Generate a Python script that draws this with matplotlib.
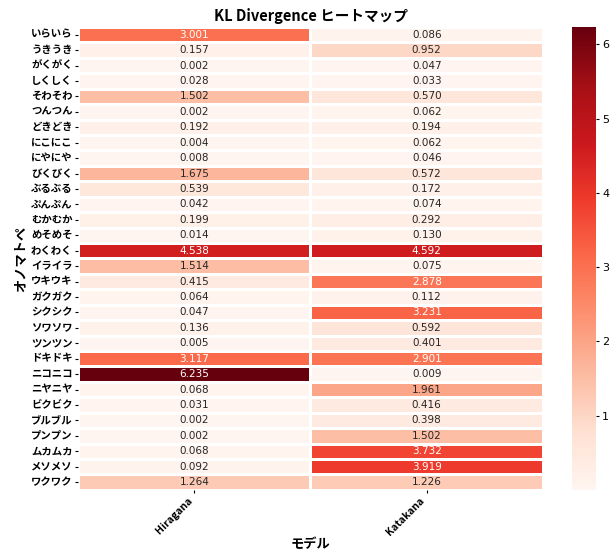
import numpy as np
import pandas as pd
import matplotlib
matplotlib.use("Agg")
import matplotlib.pyplot as plt
import seaborn as sns

plt.rcParams['font.family'] = ['Noto Sans CJK JP', 'DejaVu Sans']

onomatopoeia = ['いらいら', 'うきうき', 'がくがく', 'しくしく', 'そわそわ', 'つんつん', 'どきどき',
                'にこにこ', 'にやにや', 'びくびく', 'ぶるぶる', 'ぷんぷん', 'むかむか', 'めそめそ',
                'わくわく', 'イライラ', 'ウキウキ', 'ガクガク', 'シクシク', 'ソワソワ', 'ツンツン',
                'ドキドキ', 'ニコニコ', 'ニヤニヤ', 'ビクビク', 'ブルブル', 'プンプン', 'ムカムカ',
                'メソメソ', 'ワクワク']
models = ['Hiragana', 'Katakana']

hiragana = [3.001, 0.157, 0.002, 0.028, 1.502, 0.002, 0.192, 0.004, 0.008, 1.675,
            0.539, 0.042, 0.199, 0.014, 4.538, 1.514, 0.415, 0.064, 0.047, 0.136,
            0.005, 3.117, 6.235, 0.068, 0.031, 0.002, 0.002, 0.068, 0.092, 1.264]
katakana = [0.086, 0.952, 0.047, 0.033, 0.570, 0.062, 0.194, 0.062, 0.046, 0.572,
            0.172, 0.074, 0.292, 0.130, 4.592, 0.075, 2.878, 0.112, 3.231, 0.592,
            0.401, 2.901, 0.009, 1.961, 0.416, 0.398, 1.502, 3.732, 3.919, 1.226]

df = pd.DataFrame({'Hiragana': hiragana, 'Katakana': katakana}, index=onomatopoeia)

fig = plt.figure(figsize=(6.1, 5.51), dpi=100)
ax = fig.add_axes([0.128, 0.111, 0.762, 0.840])
cax = fig.add_axes([0.938, 0.111, 0.039, 0.840])

# numbers (cell values, colorbar) stay in DejaVu Sans
sns.heatmap(df, ax=ax, cbar_ax=cax, cmap='Reds', annot=True, fmt='.3f',
            linewidths=0.8, linecolor='white',
            annot_kws={'size': 7.5, 'family': 'DejaVu Sans'})

ax.set_title('KL Divergence ヒートマップ', fontsize=10.5, fontweight='bold', pad=4)
ax.set_xlabel('モデル', fontsize=9.5, fontweight='bold', labelpad=0)
ax.set_ylabel('オノマトペ', fontsize=9.5, fontweight='bold', labelpad=2)
ax.set_xticklabels(models, rotation=45, ha='right', fontsize=7.5, fontweight='bold')
ax.set_yticklabels(onomatopoeia, rotation=0, fontsize=7.5, fontweight='bold')
ax.tick_params(length=2.5, pad=1.5)
cax.tick_params(labelsize=8, length=2.5, pad=2)
for t in cax.get_yticklabels():
    t.set_family('DejaVu Sans')

fig.savefig('out.png', dpi=100)
